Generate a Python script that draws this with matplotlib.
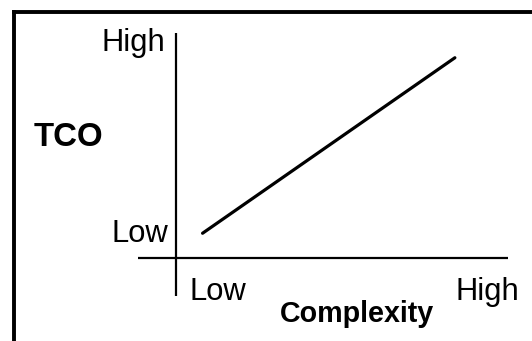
import matplotlib
matplotlib.use("Agg")
import matplotlib.pyplot as plt
from matplotlib.lines import Line2D

# Data
complexity = [0.8, 8.4]
tco = [1.1, 8.9]
y_tick_labels = ["Low", "High"]
x_tick_labels = ["Low", "High"]
y_title = "TCO"
x_title = "Complexity"

W, H = 532, 341
fig = plt.figure(figsize=(W / 100, H / 100), dpi=100)
plt.rcParams['font.family'] = ['Liberation Sans', 'DejaVu Sans']

ax = fig.add_axes([0, 0, 1, 1])
sx, sy = 33.2, 22.5
ox, oy = 176, 258
ax.set_xlim(-ox / sx, (W - ox) / sx)
ax.set_ylim(-(H - oy) / sy, oy / sy)
ax.axis('off')

# axes cross
ax.plot([(138 - ox) / sx, 10], [0, 0], color='black', lw=1.6, solid_capstyle='butt')
ax.plot([0, 0], [(oy - 296) / sy, 10], color='black', lw=1.6, solid_capstyle='butt')

# trend line
ax.plot(complexity, tco, color='black', lw=2.3, solid_capstyle='round')

# border (top and left)
fig.add_artist(Line2D([13.5 / W, 1.01], [1 - 11.5 / H, 1 - 11.5 / H], color='black', lw=2.8,
                      solid_capstyle='projecting', transform=fig.transFigure))
fig.add_artist(Line2D([13.5 / W, 13.5 / W], [1 - 11.5 / H, -0.01], color='black', lw=2.8,
                      solid_capstyle='projecting', transform=fig.transFigure))

def ftext(x, y, s, **kw):
    fig.text(x / W, 1 - y / H, s, va='baseline', **kw)

ftext(165, 51, y_tick_labels[1], ha='right', fontsize=22.3)
ftext(168, 242, y_tick_labels[0], ha='right', fontsize=22.3)
ftext(34, 146, y_title, ha='left', fontsize=23.8, fontweight='bold')
ftext(189, 300, x_tick_labels[0], ha='left', fontsize=22.3)
ftext(455, 300, x_tick_labels[1], ha='left', fontsize=22.3)
ftext(280, 322, x_title, ha='left', fontsize=20.6, fontweight='bold')

fig.savefig('out.png', dpi=100)
